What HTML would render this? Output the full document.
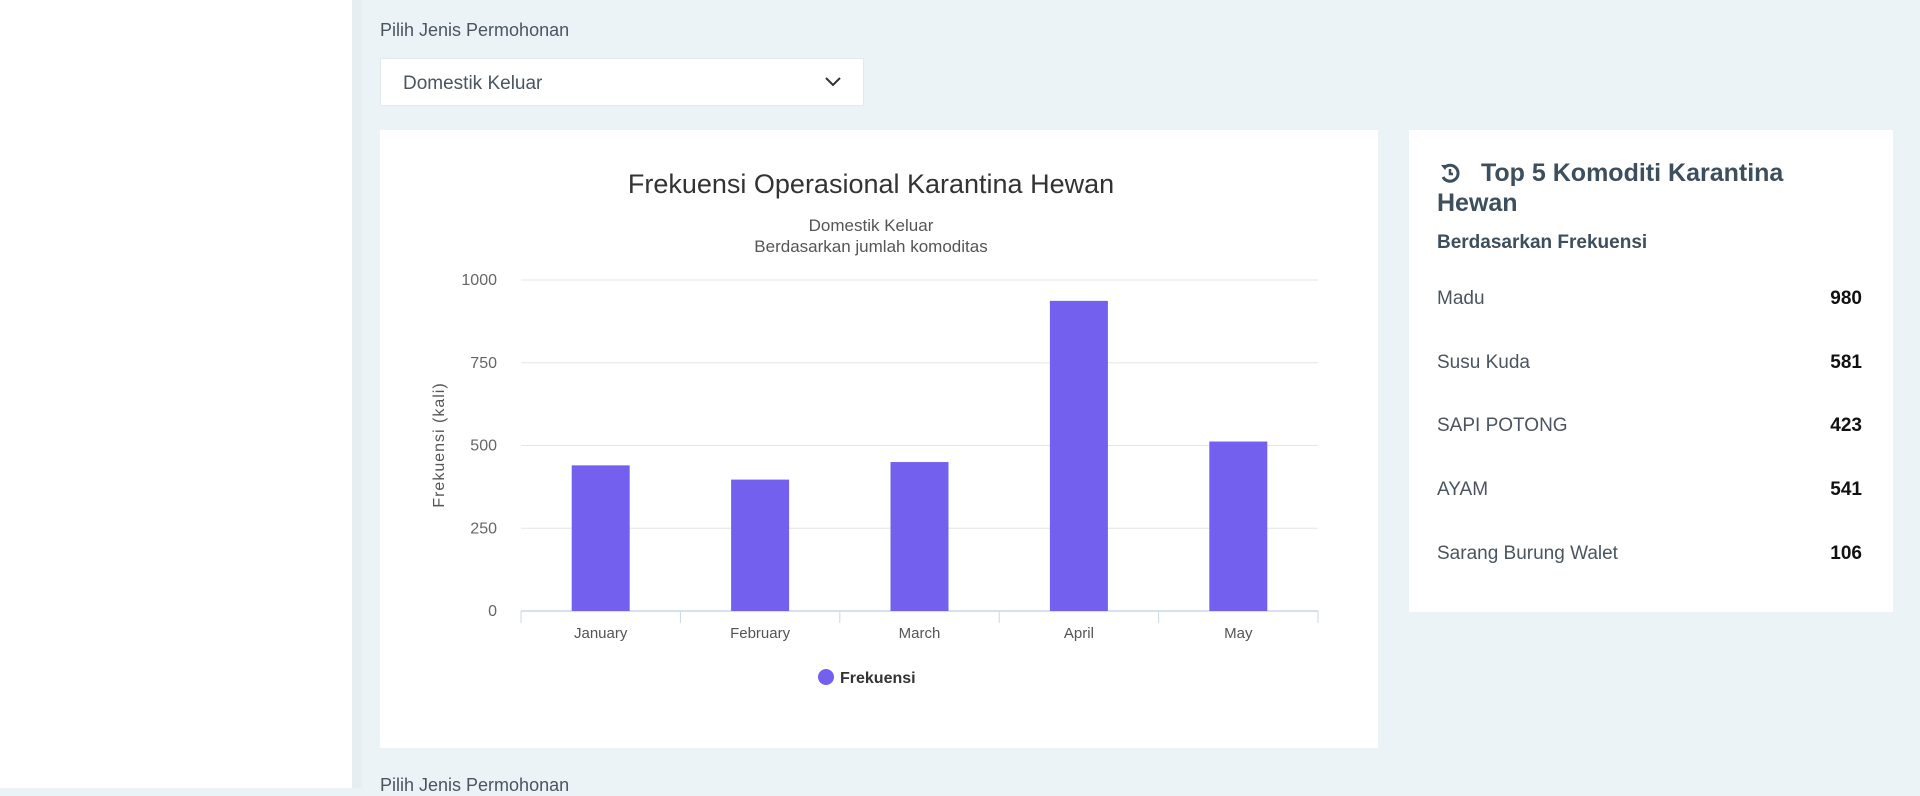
<!DOCTYPE html>
<html><head><meta charset="utf-8"><style>
body{margin:0;width:1920px;height:788px;overflow:hidden;background:#ecf3f7;font-family:"Liberation Sans",sans-serif;position:relative}
.side{position:absolute;left:0;top:0;width:352px;height:788px;background:#fff}
.strip{position:absolute;left:352px;top:0;width:10px;height:788px;background:#e6eef2}
.lbl{position:absolute;left:380px;font-size:18px;color:#4a5560}
.sel{position:absolute;left:380px;top:58px;width:484px;height:48px;background:#fff;border:1px solid #e4e9ee;font-size:19px;color:#4a5560;box-sizing:border-box;padding:14px 22px}
.card{position:absolute;background:#fff}
.row{position:absolute;left:28px;right:31px;font-size:19px;color:#4a5560}
.row b{position:absolute;right:0;color:#111}
</style></head><body>
<div class="side"></div>
<div class="strip"></div>
<div class="lbl" style="top:20px">Pilih Jenis Permohonan</div>
<div class="sel">Domestik Keluar
<svg style="position:absolute;right:22px;top:18px" width="16" height="10"><path d="M1 1 L8 8 L15 1" stroke="#333" stroke-width="2" fill="none"/></svg></div>
<div class="card" style="left:380px;top:130px;width:998px;height:618px">
<svg id="chart" width="998" height="618"></svg>
</div>
<div class="card" style="left:1409px;top:130px;width:484px;height:482px">
<svg style="position:absolute;left:30px;top:32px" width="22" height="22" viewBox="0 0 22 22"><path d="M5 6 A8 8 0 1 1 4 15" stroke="#3d4e5c" stroke-width="3" fill="none"/><path d="M2 3 L6 8 L9 3Z" fill="#3d4e5c"/><path d="M11 7 V12 H14" stroke="#3d4e5c" stroke-width="2.5" fill="none"/></svg>
<div style="position:absolute;left:28px;top:28px;width:400px;font-size:25px;font-weight:bold;color:#3d4e5c;line-height:30px"><span style="padding-left:44px">Top 5 Komoditi Karantina</span><br>Hewan</div>
<div style="position:absolute;left:28px;top:102px;font-size:19px;font-weight:bold;color:#3d4e5c">Berdasarkan Frekuensi</div>
<div class="row" style="top:158px">Madu<b>980</b></div>
<div class="row" style="top:222px">Susu Kuda<b>581</b></div>
<div class="row" style="top:285px">SAPI POTONG<b>423</b></div>
<div class="row" style="top:349px">AYAM<b>541</b></div>
<div class="row" style="top:413px">Sarang Burung Walet<b>106</b></div>
</div>
<div class="lbl" style="top:775px">Pilih Jenis Permohonan</div>
<script>
const categories=["January","February","March","April","May"];
const values=[440,397,450,937,512];
const yTicks=[0,250,500,750,1000];
const NS="http://www.w3.org/2000/svg";
const svg=document.getElementById('chart');
const X0=141,X1=938,Y0=481,Y1=150,MAX=1000;
const y=v=>Y0-(v/MAX)*(Y0-Y1);
const band=(X1-X0)/categories.length;
const x=i=>X0+band*i;
function mk(t,a,txt){const e=document.createElementNS(NS,t);for(const k in a)e.setAttribute(k,a[k]);if(txt!=null)e.textContent=txt;svg.appendChild(e);return e;}
const F='"Liberation Sans",sans-serif';
let e;
e=mk('text',{x:491,y:63,'text-anchor':'middle','font-size':27,fill:'#333','font-family':F},'Frekuensi Operasional Karantina Hewan');


e=mk('text',{x:491,y:101,'text-anchor':'middle','font-size':17,fill:'#555','font-family':F},'Domestik Keluar');


e=mk('text',{x:491,y:122,'text-anchor':'middle','font-size':17,fill:'#555','font-family':F},'Berdasarkan jumlah komoditas');


yTicks.forEach(t=>{
 if(t>0){e=mk('line',{x1:X0,x2:X1,y1:y(t),y2:y(t),stroke:'#e6e6e6','stroke-width':1});
 
 }
 e=mk('text',{x:117,y:y(t)+5,'text-anchor':'end','font-size':16,fill:'#666','font-family':F},t);
 
 
});
e=mk('text',{x:0,y:0,transform:'translate(64,315) rotate(-90)','text-anchor':'middle','font-size':16,'letter-spacing':'1',fill:'#555','font-family':F},'Frekuensi (kali)');


e=mk('line',{x1:X0,x2:X1,y1:Y0,y2:Y0,stroke:'#ccd6eb','stroke-width':1.5});


for(let i=0;i<=categories.length;i++){e=mk('line',{x1:x(i),x2:x(i),y1:Y0,y2:Y0+12,stroke:'#ccd6eb'});

}
const bw=58;
categories.forEach((c,i)=>{
 const cx=x(i)+band/2;
 e=mk('rect',{x:cx-bw/2,y:y(values[i]),width:bw,height:Y0-y(values[i]),fill:'#7460ee'});
 
 
 e=mk('text',{x:cx,y:Y0+27,'text-anchor':'middle','font-size':15,fill:'#555','font-family':F},c);
 
 
});
e=mk('circle',{cx:446,cy:547,r:8,fill:'#7460ee'});


e=mk('text',{x:460,y:553,'font-size':16,'font-weight':'bold',fill:'#333','font-family':F},'Frekuensi');


</script>
</body></html>
